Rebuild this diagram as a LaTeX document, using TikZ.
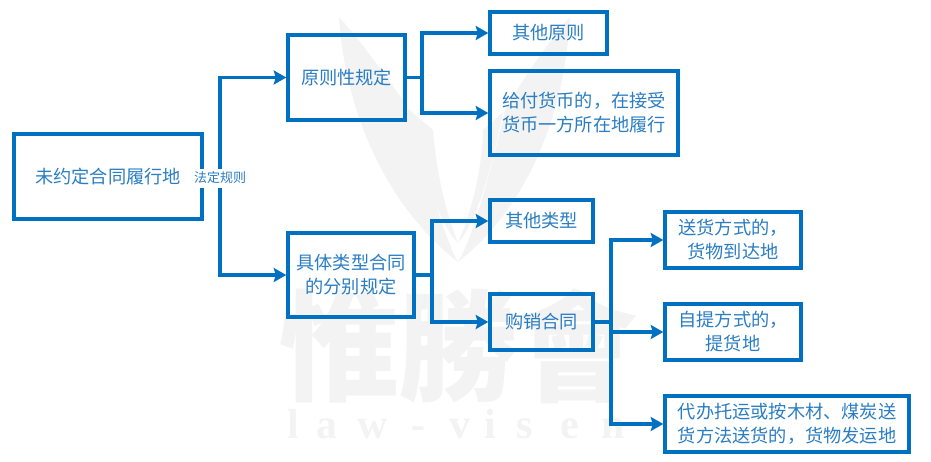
\documentclass[tikz,border=0pt]{standalone}
\usepackage{fontspec}
\setmainfont{Liberation Serif}
\newfontfamily\cjk{Noto Sans CJK SC}
\newfontfamily\cjkwm{Noto Sans CJK TC}
\usetikzlibrary{arrows.meta}
\definecolor{boxblue}{HTML}{0070C0}
\definecolor{txtblue}{HTML}{2A7DC2}
\definecolor{wmgray}{HTML}{F3F3F3}
\tikzset{
  x=1pt,y=-1pt,
  bx/.style={draw=boxblue,line width=3.5pt,rectangle,inner sep=0pt,text=txtblue,align=center,
    font=\cjk\fontsize{18.2}{24}\selectfont},
  stub/.style={draw=boxblue,line width=3.5pt},
  arr/.style={draw=boxblue,line width=3.5pt,-{Stealth[length=12.5pt,width=14pt,inset=2pt]}},
  lbl/.style={fill=white,text=txtblue,inner sep=1pt,minimum height=19pt,font=\cjk\fontsize{13}{15}\selectfont},
  wmchar/.style={text=wmgray,inner sep=0pt,font=\cjkwm\bfseries\fontsize{120}{120}\selectfont},
  wmlat/.style={text=wmgray,inner sep=0pt,anchor=base,font=\bfseries\fontsize{42}{42}\selectfont}
}
\begin{document}
\begin{tikzpicture}
\useasboundingbox (0,0) rectangle (931,461);
% watermark
\fill[wmgray] (339,17) .. controls (345,110) and (385,205) .. (458,262)
  .. controls (445,240) and (425,170) .. (405,103) .. controls (385,75) and (360,40) .. (339,17) -- cycle;
\fill[wmgray] (433,130) -- (407,108) .. controls (420,170) and (440,225) .. (458,243) .. controls (445,210) and (436,170) .. (433,130) -- cycle;
\fill[wmgray] (570,17) .. controls (565,110) and (530,205) .. (458,262)
  .. controls (472,240) and (490,175) .. (505,110) .. controls (525,75) and (550,40) .. (570,17) -- cycle;
\fill[wmgray] (483,130) -- (503,112) .. controls (492,170) and (475,225) .. (458,243) .. controls (472,210) and (482,170) .. (483,130) -- cycle;
\node[wmchar] (wa) at (339,346) {惟};
\node[wmchar] (wb) at (458,346) {勝};
\node[wmchar] (wc) at (577,346) {會};
\foreach \c/\px [count=\i] in {l/293,a/327,w/373,-/418,v/460,i/490,s/525,e/570,n/613}
  \node[wmlat] (wl\i) at (\px,438) {\c};
% boxes
\node[bx,minimum width=188pt,minimum height=85pt] (A) at (108,176.5) {未约定合同履行地};
\node[bx,minimum width=117pt,minimum height=85pt] (B) at (346.5,77.5) {原则性规定};
\node[bx,minimum width=126pt,minimum height=84pt] (C) at (351,275) {具体类型合同\\的分别规定};
\node[bx,minimum width=117pt,minimum height=42pt] (D) at (548.5,33) {其他原则};
\node[bx,minimum width=188pt,minimum height=84pt] (E) at (584,113) {给付货币的，在接受\\货币一方所在地履行};
\node[bx,minimum width=103pt,minimum height=42pt] (F) at (541.5,221) {其他类型};
\node[bx,minimum width=103pt,minimum height=56pt] (G) at (541.5,322) {购销合同};
\node[bx,minimum width=136pt,minimum height=56pt] (H) at (733,240) {送货方式的，\\货物到达地};
\node[bx,minimum width=136pt,minimum height=56pt] (I) at (733,332) {自提方式的，\\提货地};
\node[bx,minimum width=244pt,minimum height=56pt] (J) at (787,424) {代办托运或按木材、煤炭送\\货方法送货的，货物发运地};
% connector junctions
\coordinate (tA) at (220,176.5);
\coordinate (tB) at (422,77.5);
\coordinate (tC) at (432,275);
\coordinate (tG) at (611,322);
% connectors
\draw[stub] (A.east) -- (tA);
\draw[arr] (tA) |- (B.west);
\draw[arr] (tA) |- (C.west);
\draw[stub] (B.east) -- (tB);
\draw[arr] (tB) |- (D.west);
\draw[arr] (tB) |- (E.west);
\draw[stub] (C.east) -- (tC);
\draw[arr] (tC) |- (F.west);
\draw[arr] (tC) |- (G.west);
\draw[stub] (G.east) -- (tG);
\draw[arr] (tG) |- (H.west);
\draw[arr] (tG) |- (I.west);
\draw[arr] (tG) |- (J.west);
\node[lbl] (rule) at (220,178) {法定规则};
\end{tikzpicture}
\end{document}
